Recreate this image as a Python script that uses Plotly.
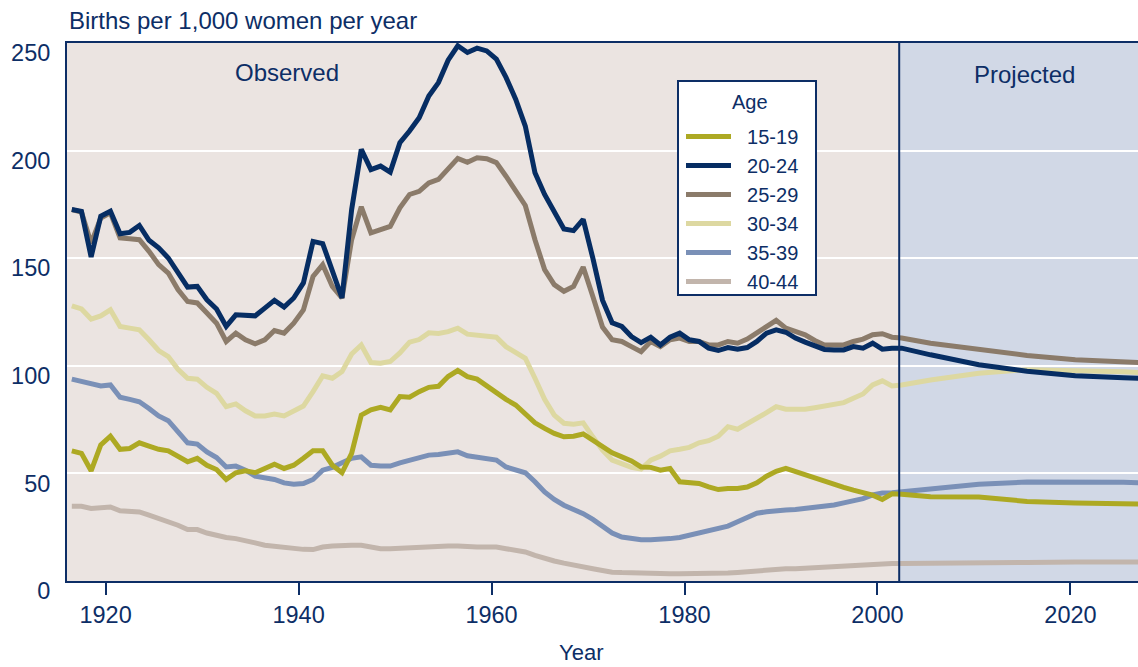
import plotly.graph_objects as go

# ---------------- data ----------------
YEARS_OBS = list(range(1916, 2002))
YEARS_PROJ = [2002, 2005, 2010, 2015, 2020, 2025, 2027]
AGE_GROUPS = ["15-19", "20-24", "25-29", "30-34", "35-39", "40-44"]
X_TICKS = [1920, 1940, 1960, 1980, 2000, 2020]
Y_TICKS = [0, 50, 100, 150, 200, 250]

RATE_15_19_OBS = [
    60.5, 59.3, 51.2, 63.2,
    67.3, 61.2, 61.6, 64.2, 62.7, 61.2, 60.5, 57.7, 55.4, 57.0,
    53.8, 51.8, 47.2, 50.3, 51.2, 50.3, 52.3, 54.3, 52.3, 53.8,
    57.0, 60.5, 60.5, 53.8, 50.3, 59.3, 77.1, 79.5, 80.7, 79.5,
    85.7, 85.4, 88.0, 90.0, 90.5, 95.0, 97.8, 95.0, 93.8, 90.6,
    88.0, 84.4, 81.8, 77.9, 73.5, 70.9, 68.6, 67.0, 67.3, 68.3,
    65.2, 62.1, 59.6, 57.7, 55.8, 53.0, 52.8, 51.5, 52.3, 46.1,
    45.6, 45.3, 43.7, 42.5, 43.0, 43.0, 43.7, 45.6, 48.7, 51.0,
    52.3, 50.8, 49.5, 48.0, 46.0, 44.5, 43.5, 42.2, 40.9, 39.9,
    37.9, 40.5,
]
RATE_20_24_OBS = [
    172.6, 171.8, 150.6, 169.5,
    171.8, 161.4, 162.0, 165.2, 158.3, 154.8, 150.1, 143.1, 136.6, 136.9,
    130.7, 126.4, 118.3, 123.7, 123.5, 123.2, 126.8, 130.4, 127.3, 131.5,
    138.5, 157.8, 156.8, 143.9, 131.5, 172.6, 200.6, 191.2, 192.8, 190.0,
    203.7, 209.1, 215.3, 225.4, 231.6, 242.0, 248.7, 245.6, 247.6, 246.3,
    242.5, 234.0, 223.9, 211.4, 189.7, 179.6, 171.8, 163.6, 162.8, 168.0,
    150.0, 130.5, 120.0, 118.3, 113.6, 110.8, 113.3, 109.7, 113.3, 115.2,
    112.1, 111.3, 108.2, 107.1, 108.5, 107.7, 108.5, 111.3, 115.2, 116.7,
    115.6, 112.9, 111.0, 109.5, 107.6, 107.4, 107.4, 108.9, 108.2, 110.5,
    107.7, 108.2,
]
RATE_25_29_OBS = [
    172.6, 171.4, 157.0, 168.7,
    171.1, 159.4, 159.0, 158.6, 153.2, 147.0, 143.1, 135.4, 129.9, 129.2,
    124.5, 119.8, 111.3, 115.2, 112.1, 110.2, 112.1, 116.4, 115.2, 119.8,
    126.0, 141.5, 147.0, 136.9, 131.5, 158.6, 173.9, 161.8, 163.3, 164.8,
    173.4, 179.6, 181.1, 185.0, 186.6, 191.2, 196.4, 194.6, 196.7, 196.2,
    194.4, 188.1, 181.1, 174.5, 158.6, 144.7, 137.7, 134.6, 136.9, 145.9,
    132.2, 118.0, 112.1, 111.3, 108.9, 106.6, 111.3, 108.9, 112.1, 112.9,
    111.3, 111.3, 109.7, 109.7, 111.3, 110.5, 112.4, 115.2, 118.3, 121.1,
    117.5, 116.0, 114.4, 111.8, 109.7, 109.7, 109.7, 111.3, 112.4, 114.4,
    114.9, 113.3,
]
RATE_30_34_OBS = [
    127.9, 126.4, 121.7, 123.2,
    126.0, 118.3, 117.5, 116.7, 112.1, 107.1, 104.3, 98.4, 94.2, 93.8,
    90.0, 87.2, 81.0, 82.3, 79.1, 76.7, 76.7, 77.6, 76.7, 78.7,
    81.3, 88.0, 95.3, 94.2, 97.3, 105.5, 109.7, 101.5, 101.2, 102.0,
    106.0, 111.0, 112.2, 115.3, 115.0, 115.9, 117.5, 114.7, 114.4, 113.9,
    113.3, 108.9, 106.1, 103.5, 94.2, 84.4, 77.1, 73.3, 72.9, 73.5,
    67.0, 60.8, 56.2, 54.2, 52.8, 52.0, 56.2, 58.0, 60.5, 61.2,
    62.1, 64.2, 65.2, 67.3, 71.7, 70.5, 72.9, 75.6, 78.2, 81.0,
    79.8, 79.8, 79.8, 80.5, 81.2, 81.8, 82.9, 84.9, 86.9, 91.1,
    93.0, 90.6,
]
RATE_35_39_OBS = [
    93.8, 92.6, 91.6, 90.6,
    91.1, 85.4, 84.4, 83.3, 80.2, 76.7, 74.5, 68.9, 64.2, 63.6,
    60.0, 57.4, 53.0, 53.4, 51.5, 48.7, 48.1, 47.2, 45.6, 45.0,
    45.3, 47.2, 51.5, 52.8, 54.9, 57.0, 57.7, 53.8, 53.4, 53.4,
    54.9, 56.2, 57.0, 58.5, 58.8, 59.3, 60.0, 58.2, 57.7, 57.0,
    56.2, 53.0, 51.5, 50.3, 46.1, 41.4, 37.9, 35.2, 33.2, 31.3,
    28.6, 25.1, 22.3, 20.4, 19.7, 19.2, 19.2, 19.2, 19.7, 20.2,
    21.2, 22.3, 23.3, 24.4, 25.5, 27.5, 29.6, 31.5, 32.2, 32.8,
    33.0, 33.2, 33.6, 34.0, 34.5, 35.3, 36.3, 37.3, 38.3, 40.0,
    40.9, 41.0,
]
RATE_40_44_OBS = [
    34.7, 34.7, 33.7, 34.2,
    34.4, 32.6, 32.1, 32.1, 30.6, 29.0, 27.9, 25.9, 23.9, 23.9,
    22.3, 21.2, 20.2, 19.7, 18.9, 17.7, 16.6, 16.1, 15.8, 15.0,
    14.7, 14.6, 15.8, 16.3, 16.6, 16.6, 16.6, 15.5, 15.0, 15.0,
    15.3, 15.5, 15.8, 16.1, 16.3, 16.3, 16.3, 15.8, 15.8, 15.8,
    15.8, 15.0, 14.3, 13.5, 11.9, 10.4, 9.3, 8.3, 7.3, 6.5,
    5.7, 4.9, 4.1, 3.9, 3.7, 3.5, 3.4, 3.4, 3.4, 3.4,
    3.4, 3.4, 3.4, 3.5, 3.7, 4.0, 4.4, 4.9, 5.2, 5.5,
    5.7, 5.7, 6.0, 6.3, 6.5, 6.8, 7.0, 7.3, 7.6, 8.0,
    8.3, 8.1,
]

RATE_15_19_PROJ = [40.3, 39.2, 39.0, 37.0, 36.3, 36.0, 35.7]
RATE_20_24_PROJ = [108.2, 105.1, 100.5, 97.5, 95.4, 94.4, 94.1]
RATE_25_29_PROJ = [112.9, 110.5, 107.4, 104.8, 102.8, 101.7, 101.4]
RATE_30_34_PROJ = [91.1, 93.4, 96.5, 98.2, 97.9, 97.2, 96.8]
RATE_35_39_PROJ = [41.4, 43.0, 45.0, 46.0, 46.1, 45.9, 45.6]
RATE_40_44_PROJ = [8.1, 8.1, 8.3, 8.6, 8.8, 8.8, 8.8]

# ---------------- styling ----------------
NAVY = "#0D2E66"
FONT = "Liberation Sans, Arial, sans-serif"
COLORS = {
    "15-19": "#ADA923",
    "20-24": "#062D63",
    "25-29": "#8B7B6A",
    "30-34": "#DDD8A1",
    "35-39": "#7A90B7",
    "40-44": "#C2B5AC",
}
OBS_BG = "#EBE4E1"
PROJ_BG = "#D1D8E6"
X_RANGE = [1916, 2027]
DIVIDER = 2002.25
W, H = 1138, 667
M = dict(l=67, r=0, t=43, b=86)
PW, PH = W - M["l"] - M["r"], H - M["t"] - M["b"]


def px_x(px):  # page pixel -> paper x
    return (px - M["l"]) / PW


def px_y(py):  # page pixel -> paper y
    return (H - M["b"] - py) / PH


series = {
    "15-19": (RATE_15_19_OBS, RATE_15_19_PROJ),
    "20-24": (RATE_20_24_OBS, RATE_20_24_PROJ),
    "25-29": (RATE_25_29_OBS, RATE_25_29_PROJ),
    "30-34": (RATE_30_34_OBS, RATE_30_34_PROJ),
    "35-39": (RATE_35_39_OBS, RATE_35_39_PROJ),
    "40-44": (RATE_40_44_OBS, RATE_40_44_PROJ),
}

# annual rates are plotted at mid-year
x_all = [y + 0.5 for y in YEARS_OBS + YEARS_PROJ]

fig = go.Figure()
draw_order = ["40-44", "35-39", "30-34", "25-29", "20-24", "15-19"]
for age in draw_order:
    obs, proj = series[age]
    fig.add_trace(go.Scatter(
        x=x_all, y=obs + proj, mode="lines", name="\u00a0\u00a0" + age,
        line=dict(color=COLORS[age], width=5),
        legendrank=AGE_GROUPS.index(age) + 1,
        hoverinfo="skip",
    ))

fig.add_shape(type="rect", xref="x", yref="paper", x0=X_RANGE[0], x1=DIVIDER,
              y0=0, y1=1, fillcolor=OBS_BG, line_width=0, layer="below")
fig.add_shape(type="rect", xref="x", yref="paper", x0=DIVIDER, x1=X_RANGE[1],
              y0=0, y1=1, fillcolor=PROJ_BG, line_width=0, layer="below")
fig.add_shape(type="line", xref="x", yref="paper", x0=DIVIDER, x1=DIVIDER,
              y0=0, y1=1, line=dict(color=NAVY, width=2), layer="above")
# legend frame
fig.add_shape(type="rect", xref="paper", yref="paper",
              x0=px_x(678), x1=px_x(816), y0=px_y(295), y1=px_y(81),
              fillcolor="white", line=dict(color=NAVY, width=2), layer="above")

fig.add_annotation(text="Age", xref="paper", yref="paper", x=px_x(750), y=px_y(102),
                   xanchor="center", yanchor="middle", showarrow=False,
                   font=dict(size=20, color=NAVY, family=FONT))
fig.add_annotation(text="Observed", xref="paper", yref="paper", x=px_x(287), y=px_y(72),
                   xanchor="center", yanchor="middle", showarrow=False,
                   font=dict(size=24, color=NAVY, family=FONT))
fig.add_annotation(text="Projected", xref="paper", yref="paper", x=px_x(1024), y=px_y(74),
                   xanchor="center", yanchor="middle", showarrow=False,
                   font=dict(size=24, color=NAVY, family=FONT))
fig.add_annotation(text="Births per 1,000 women per year", xref="paper", yref="paper",
                   x=px_x(67), y=px_y(21), xanchor="left", yanchor="middle", showarrow=False,
                   font=dict(size=24, color=NAVY, family=FONT))
fig.add_annotation(text="Year", xref="paper", yref="paper", x=px_x(581), y=px_y(652),
                   xanchor="center", yanchor="middle", showarrow=False,
                   font=dict(size=22, color=NAVY, family=FONT))

fig.update_layout(
    width=W, height=H,
    margin=M,
    paper_bgcolor="white",
    plot_bgcolor=OBS_BG,
    font=dict(family=FONT, color=NAVY, size=22),
    showlegend=True,
    legend=dict(
        x=px_x(681), y=px_y(117), xanchor="left", yanchor="top",
        bgcolor="rgba(0,0,0,0)", borderwidth=0,
        font=dict(size=20, color=NAVY, family=FONT),
        itemwidth=45,
        tracegroupgap=0,
    ),
    xaxis=dict(
        range=X_RANGE, tickmode="array", tickvals=X_TICKS,
        ticktext=[str(t) for t in X_TICKS],
        ticks="outside", ticklen=12, tickwidth=2, tickcolor=NAVY,
        showline=True, linecolor=NAVY, linewidth=2, mirror=True,
        showgrid=False, zeroline=False,
        tickfont=dict(size=23.5, color=NAVY),
    ),
    yaxis=dict(
        range=[0, 250], tickmode="array", tickvals=Y_TICKS,
        showline=True, linecolor=NAVY, linewidth=2,
        showgrid=True, gridcolor="white", gridwidth=2,
        zeroline=False, ticks="",
        ticklabelstandoff=10, ticklabelshift=10,
        tickfont=dict(size=23.5, color=NAVY),
    ),
)

fig.write_html(
    "out.html",
    config={"displayModeBar": False},
    post_script="document.body.style.margin='0';document.body.style.overflow='hidden';",
)
